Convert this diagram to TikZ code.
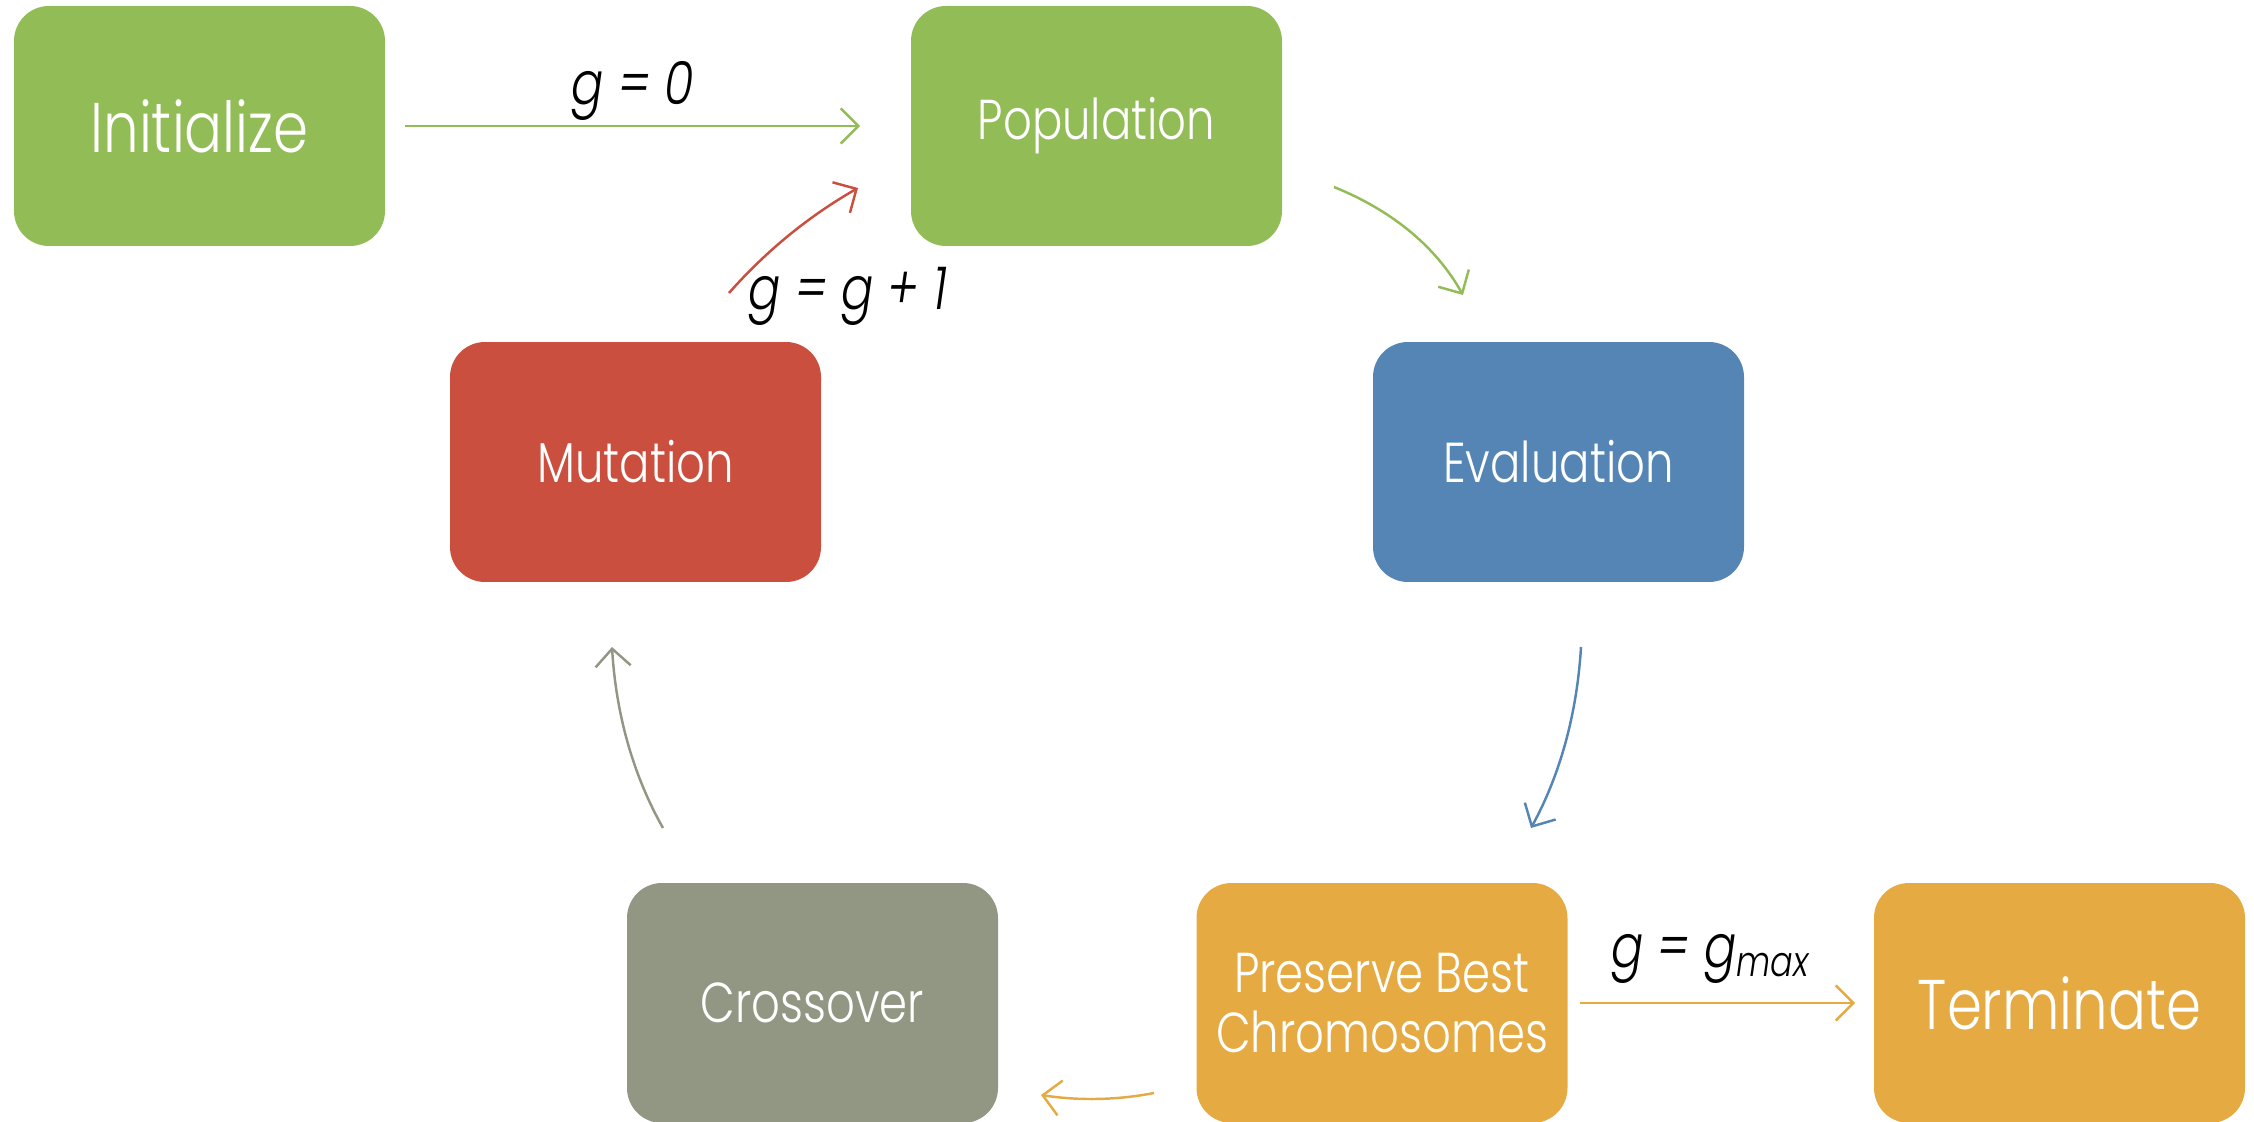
\documentclass[tikz,border=0pt]{standalone}
\usepackage{fontspec}
\usetikzlibrary{arrows.meta}
\newfontfamily\gothic{Poppins Light}[FakeStretch=0.8]
\definecolor{cgreen}{HTML}{92BC55}
\definecolor{cblue}{HTML}{5585B5}
\definecolor{cred}{HTML}{CB4F3E}
\definecolor{cgray}{HTML}{919783}
\definecolor{corange}{HTML}{E5AA42}
\begin{document}
\begin{tikzpicture}[x=0.1mm,y=-0.1mm,
  box/.style={rounded corners=3.5mm,minimum width=37.1mm,minimum height=24mm,
    inner sep=0pt,text=white,align=center,font=\gothic\fontsize{16}{19}\selectfont},
  bigbox/.style={box,font=\gothic\fontsize{20}{24}\selectfont},
  conn/.style={line width=0.7pt,-{Straight Barb[length=5pt,width=10pt]}},
  lbl/.style={inner sep=0pt,font=\gothic\itshape\fontsize{17}{20}\selectfont}]
\useasboundingbox (0,0) rectangle (2254,1122);
\node[bigbox,fill=cgreen] (init) at (199.5,126) {Initialize};
\node[box,fill=cgreen] (pop) at (1096.5,126) {Population};
\node[box,fill=cblue] (eval) at (1558.5,462) {Evaluation};
\node[box,fill=cred] (mut) at (635.5,462) {Mutation};
\node[box,fill=cgray] (cross) at (812.5,1003) {Crossover};
\node[box,fill=corange] (pres) at (1382,1003) {Preserve Best\\[-2pt]Chromosomes};
\node[bigbox,fill=corange] (term) at (2059.5,1003) {Terminate};

\coordinate (a1s) at (405,126);  \coordinate (a1e) at (860,126);
\coordinate (a2s) at (1334,187); \coordinate (a2e) at (1463,295);
\coordinate (a3s) at (1581,647); \coordinate (a3e) at (1531,828);
\coordinate (a4s) at (1154,1093); \coordinate (a4e) at (1041,1095);
\coordinate (a5s) at (663,828);  \coordinate (a5e) at (612,647);
\coordinate (a6s) at (729,293);  \coordinate (a6e) at (858,188);
\coordinate (a7s) at (1580,1003); \coordinate (a7e) at (1855,1003);

\draw[conn,cgreen] (a1s) -- (a1e);
\draw[conn,cgreen] (a2s) .. controls (1393,211) and (1436,247) .. (a2e);
\draw[conn,cblue] (a3s) .. controls (1577,714) and (1560,775) .. (a3e);
\draw[conn,corange] (a4s) .. controls (1118,1100) and (1080,1101) .. (a4e);
\draw[conn,cgray] (a5s) .. controls (633,775) and (616,714) .. (a5e);
\draw[conn,cred] (a6s) .. controls (766,251) and (809,216) .. (a6e);
\draw[conn,corange] (a7s) -- (a7e);

\node[lbl] (l1) at (633,91) {g = 0};
\node[lbl] (l2) at (848,296) {g = g + 1};
\node[lbl] (l3) at (1711,959) {g = g\textsubscript{max}};
\end{tikzpicture}
\end{document}
